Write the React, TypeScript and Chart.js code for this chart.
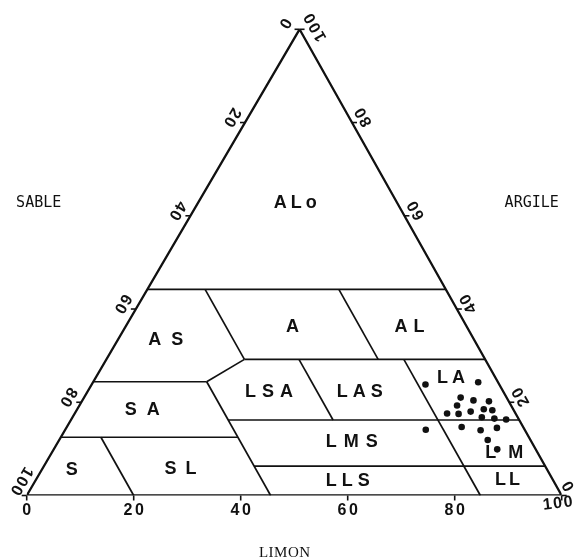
import React, { useEffect, useRef } from "react";
import { Chart, registerables } from "chart.js";

Chart.register(...registerables);

// ---- axis ticks ----
const AXIS_TICKS = [0, 20, 40, 60, 80, 100];
const AXIS_TICK_LABELS = ["0", "20", "40", "60", "80", "100"];
const AXIS_TITLES = ["SABLE", "ARGILE", "LIMON"];

// ---- sample soils (% limon / % argile) ----
const SAMPLE_LIMON = [62.4, 72.0, 70.4, 73.1, 76.1, 70.6, 76.0, 77.7, 69.6, 71.8, 73.8, 76.5, 79.0, 81.3, 67.4, 73.8, 77.7, 80.5, 80.1, 82.9];
const SAMPLE_ARGILE = [23.8, 24.3, 21.0, 20.4, 20.2, 19.3, 18.5, 18.3, 17.6, 17.5, 18.0, 16.8, 16.5, 16.3, 14.1, 14.7, 14.0, 14.5, 11.9, 9.9];

// ---- class limits: constant clay lines (from sand A to sand B) ----
const LIMIT_CLAY = [44.2, 29.2, 24.4, 16.2, 12.5, 6.3];
const LIMIT_CLAY_SAND_FROM = [55.8, 45, 75.6, 54.4, 87.5, 54.4];
const LIMIT_CLAY_SAND_TO = [0, 0, 54.4, 0, 54.4, 0];
// ---- class limits: constant sand lines (from clay A to clay B) ----
const LIMIT_SAND = [80, 54.4, 45, 20, 34.8, 15.2];
const LIMIT_SAND_CLAY_FROM = [0, 0, 29.2, 29.2, 16.2, 0];
const LIMIT_SAND_CLAY_TO = [12.5, 24.4, 44.2, 44.2, 29.2, 29.2];
// ---- oblique limit SA/AS - LSA ----
const CONNECTOR_SAND = [54.4, 45];
const CONNECTOR_CLAY = [24.4, 29.2];

// ---- texture classes ----
const CLASS_NAMES = ["ALo", "A", "AL", "AS", "SA", "S", "SL", "LSA", "LAS", "LA", "LMS", "LM", "LLS", "LL"];
const CLASS_LIMON = [18.2, 31.2, 53.1, 9.0, 12.2, 5.6, 25.9, 34.0, 50.9, 66.5, 54.9, 84.6, 58.5, 88.2];
const CLASS_ARGILE = [62.7, 36.2, 36.2, 33.3, 18.4, 5.5, 5.6, 22.1, 22.3, 25.1, 11.5, 9.1, 3.0, 3.3];
const CLASS_SPACING = [4, 0, 6, 10, 10, 0, 9, 6, 5, 4, 7, 12, 5, 3];

const SKEW = 0.51;
const INK = "#111";

function toXY(limon: number, argile: number) {
  return { x: limon + SKEW * argile, y: argile };
}
function fromSand(sable: number, argile: number) {
  return toXY(100 - sable - argile, argile);
}

function drawText(
  ctx: CanvasRenderingContext2D,
  text: string,
  x: number,
  y: number,
  angle: number,
  font: string,
  ls: number,
  scaleX = 1
) {
  ctx.save();
  ctx.translate(x, y);
  ctx.rotate(angle);
  ctx.scale(scaleX, 1);
  ctx.font = font;
  (ctx as any).letterSpacing = ls + "px";
  ctx.textAlign = "center";
  ctx.textBaseline = "middle";
  ctx.fillStyle = INK;
  ctx.fillText(text, ls / 2, 0);
  ctx.restore();
}

const decorPlugin = {
  id: "ternaryDecor",
  afterDatasetsDraw(chart: any) {
    const ctx: CanvasRenderingContext2D = chart.ctx;
    const xs = chart.scales.x;
    const ys = chart.scales.y;
    const px = (limon: number, argile: number) => {
      const p = toXY(limon, argile);
      return [xs.getPixelForValue(p.x), ys.getPixelForValue(p.y)];
    };
    const BL = px(0, 0);
    const BR = px(100, 0);
    const T = px(0, 100);
    const norm = (v: number[]) => {
      const l = Math.hypot(v[0], v[1]);
      return [v[0] / l, v[1] / l];
    };
    const leftUp = norm([T[0] - BL[0], T[1] - BL[1]]);
    const leftN = [leftUp[1], -leftUp[0]];
    const rightUp = norm([T[0] - BR[0], T[1] - BR[1]]);
    const rightN = [-rightUp[1], rightUp[0]];
    const leftAngle = Math.atan2(-leftUp[1], -leftUp[0]);
    const rightAngle = Math.atan2(rightUp[1], rightUp[0]);

    ctx.save();
    ctx.strokeStyle = INK;
    ctx.lineWidth = 1.6;
    const tickFont = "bold 16px 'Liberation Sans', Arial, sans-serif";

    AXIS_TICKS.forEach((v, i) => {
      const lab = AXIS_TICK_LABELS[i];
      // bottom: LIMON
      const [bx, by] = px(v, 0);
      ctx.beginPath();
      ctx.moveTo(bx, by);
      ctx.lineTo(bx, by + 5);
      ctx.stroke();
      if (v === 100) {
        drawText(ctx, lab, bx - 4, by + 8, -0.12, tickFont, 1.5);
      } else {
        drawText(ctx, lab, bx, by + 15.5, 0, tickFont, 2.5);
      }

      // left: SABLE (0 at top, 100 at bottom-left)
      const [lx, ly] = px(0, 100 - v);
      ctx.beginPath();
      ctx.moveTo(lx, ly);
      ctx.lineTo(lx - 5, ly);
      ctx.stroke();
      let n = 14, a = -2;
      if (v === 100) { n = 12; a = 10; }
      if (v === 0) { n = 16; a = -2; }
      drawText(
        ctx, lab,
        lx + n * leftN[0] + a * leftUp[0],
        ly + n * leftN[1] + a * leftUp[1],
        leftAngle, tickFont, 1.5
      );

      // right: ARGILE (0 at bottom-right, 100 at top)
      const [rx, ry] = px(100 - v, v);
      ctx.beginPath();
      ctx.moveTo(rx, ry);
      ctx.lineTo(rx + 5, ry);
      ctx.stroke();
      let rn = 13, ra = 1; // ra: along edge, downward
      if (v === 100) { rn = 15; ra = 6; }
      if (v === 0) { rn = 11; ra = -5; }
      drawText(
        ctx, lab,
        rx + rn * rightN[0] - ra * rightUp[0],
        ry + rn * rightN[1] - ra * rightUp[1],
        rightAngle, tickFont, 1.5
      );
    });

    // class names
    CLASS_NAMES.forEach((name, i) => {
      const [cx, cy] = px(CLASS_LIMON[i], CLASS_ARGILE[i]);
      drawText(ctx, name, cx, cy, 0, "bold 18px 'Liberation Sans', Arial, sans-serif", CLASS_SPACING[i]);
    });

    // axis titles
    const monoFont = "15px 'DejaVu Sans Mono', monospace";
    drawText(ctx, AXIS_TITLES[0], BL[0] + 12, T[1] + 173.5, 0, monoFont, 0);
    drawText(ctx, AXIS_TITLES[1], BR[0] - 30, T[1] + 174, 0, monoFont, 0);
    drawText(ctx, AXIS_TITLES[2], 284.5, BL[1] + 57.5, 0, "15px 'Liberation Serif', 'Times New Roman', serif", 0.5);
    ctx.restore();
  },
};

export default function App() {
  const canvasRef = useRef<HTMLCanvasElement | null>(null);

  useEffect(() => {
    const canvas = canvasRef.current;
    if (!canvas) return;

    const lineStyle = {
      showLine: true,
      pointRadius: 0,
      borderColor: INK,
      borderWidth: 1.7,
      fill: false,
      tension: 0,
    };

    const datasets: any[] = [];
    // outline
    datasets.push({
      ...lineStyle,
      borderWidth: 2.3,
      borderJoinStyle: "miter",
      data: [toXY(0, 0), toXY(100, 0), toXY(0, 100), toXY(0, 0)],
    });
    LIMIT_CLAY.forEach((c, i) => {
      datasets.push({
        ...lineStyle,
        data: [fromSand(LIMIT_CLAY_SAND_FROM[i], c), fromSand(LIMIT_CLAY_SAND_TO[i], c)],
      });
    });
    LIMIT_SAND.forEach((s, i) => {
      datasets.push({
        ...lineStyle,
        data: [fromSand(s, LIMIT_SAND_CLAY_FROM[i]), fromSand(s, LIMIT_SAND_CLAY_TO[i])],
      });
    });
    datasets.push({
      ...lineStyle,
      data: CONNECTOR_SAND.map((s, i) => fromSand(s, CONNECTOR_CLAY[i])),
    });
    datasets.push({
      showLine: false,
      pointRadius: 3.3,
      pointBackgroundColor: INK,
      pointBorderWidth: 0,
      borderColor: INK,
      data: SAMPLE_LIMON.map((l, i) => toXY(l, SAMPLE_ARGILE[i])),
    });

    const chart = new Chart(canvas, {
      type: "scatter",
      data: { datasets },
      options: {
        responsive: false,
        animation: false,
        events: [],
        layout: { padding: { left: 26.7, right: 13.3, top: 29.3, bottom: 64.5 } },
        scales: {
          x: { type: "linear", min: 0, max: 100, display: false },
          y: { type: "linear", min: 0, max: 100, display: false },
        },
        plugins: {
          legend: { display: false },
          tooltip: { enabled: false },
        },
      } as any,
      plugins: [decorPlugin],
    });

    return () => chart.destroy();
  }, []);

  return (
    <div style={{ position: "fixed", left: 0, top: 0, width: 575, height: 560, background: "#fff" }}>
      <canvas ref={canvasRef} width={575} height={560} style={{ display: "block" }} />
    </div>
  );
}
